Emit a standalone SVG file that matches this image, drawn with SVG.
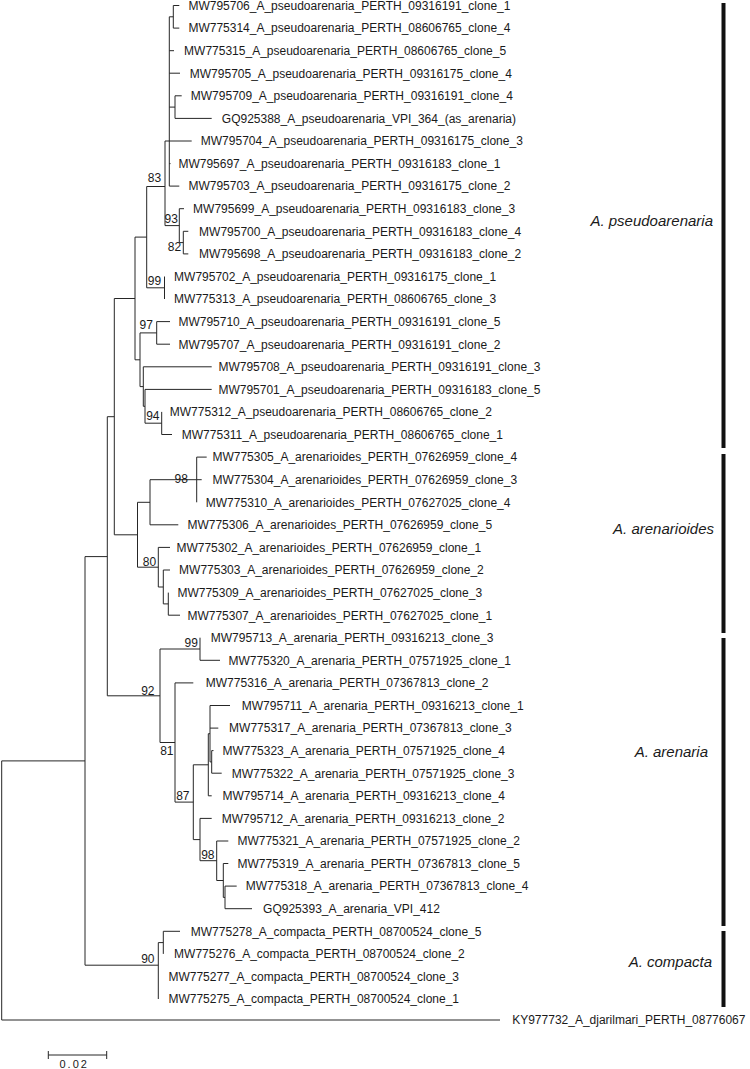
<svg xmlns="http://www.w3.org/2000/svg" width="750" height="1069" viewBox="0 0 750 1069">
<style>
.br{fill:none;stroke:#262626;stroke-width:1}
.lf{font-family:"Liberation Sans",Arial,sans-serif;font-size:12px;fill:#1a1a1a}
.bs{font-family:"Liberation Sans",Arial,sans-serif;font-size:12px;fill:#1a1a1a}
.cl{font-family:"Liberation Sans",Arial,sans-serif;font-size:15px;font-style:italic;fill:#1a1a1a;text-anchor:end}
.bar{fill:#111}
</style>
<rect width="750" height="1069" fill="#fff"/>
<g id="connectors" class="br">
<path d="M1.7,760.9V1020M1.7,1020H500M1.7,760.9H85"/>
<path d="M85,556.6V965.2M85,556.6H107.3M85,965.2H158.3"/>
<path d="M107.3,416.7V695.8M107.3,416.7H114.3M107.3,695.8H160"/>
<path d="M114.3,298.5V534.8M114.3,298.5H135M114.3,534.8H137.5"/>
<path d="M135,237.1V359.8M135,237.1H146.7M135,359.8H140"/>
<path d="M146.7,186.5V287.8M146.7,186.5H165M146.7,287.8H164.5"/>
<path d="M165,141V225.6M165,141H191.7M165,225.6H179.3"/>
<path d="M169.3,16.8V186.1M169.3,16.8H173.3M173.3,5.5V28.1M173.3,5.5H179.3M173.3,28.1H179.3"/>
<path d="M169.3,50.7H174M169.3,73.2H180M169.3,107.1H175M175,95.8V118.4M175,95.8H181.7M175,118.4H211.7"/>
<path d="M169.3,163.6H170.5M169.3,186.1H179.3"/>
<path d="M179.3,208.7V242.6M179.3,208.7H184M179.3,242.6H183.3M183.3,231.3V253.9M183.3,231.3H188.3M183.3,253.9H188.3"/>
<path d="M164.5,276.5V299"/>
<path d="M140,332.9V386.6M140,332.9H156.7M140,386.6H143.3M156.7,321.6V344.2M156.7,321.6H170M156.7,344.2H170"/>
<path d="M143.3,366.8V406.3M143.3,366.8H211.7M143.3,406.3H145M145,389.4V423.2M145,389.4H211.7M145,423.2H161.7M161.7,411.9V434.5M161.7,434.5H172"/>
<path d="M137.5,502.3V567.2M137.5,502.3H150M137.5,567.2H158.3"/>
<path d="M150,479.7V524.8M150,479.7H196.7M150,524.8H178.3M196.7,457.1V502.3M196.7,457.1H206.7M196.7,479.7H201.7"/>
<path d="M158.3,547.4V587M158.3,547.4H170M158.3,587H163.3M163.3,570V603.9M163.3,570H170M163.3,603.9H168.3M168.3,592.6V615.2M168.3,615.2H180"/>
<path d="M160,649V742.5M160,649H200M160,742.5H175M200,637.7V660.3M200,660.3H220"/>
<path d="M175,682.9V802.1M175,682.9H193.3M175,802.1H193.3"/>
<path d="M193.3,764.8V839.6M193.3,764.8H208.3M193.3,839.6H200"/>
<path d="M208.3,733.7V795.8M208.3,733.7H210M208.3,795.8H211.7M210,705.5V761.9M210,705.5H230M210,728.1H218.3M210,761.9H211.7M211.7,750.6V773.2M211.7,750.6H213.5M211.7,773.2H221.7"/>
<path d="M200,818.4V860.7M200,818.4H211.7M200,860.7H216.7M216.7,841V880.5M216.7,841H228.3M216.7,880.5H223.3M223.3,863.5V897.4M223.3,863.5H228.3M223.3,897.4H225M225,886.1V908.7M225,886.1H236.7M225,908.7H252"/>
<path d="M158.3,942.6V999M158.3,942.6H163.3M163.3,931.3V953.9M163.3,931.3H180"/>
<path d="M48.3,1055H106.7M48.3,1051V1059M106.7,1051V1059"/>
</g>
<g id="leaves" class="lf">
<g id="n0"><text x="188.4" y="9.8">MW795706_A_pseudoarenaria_PERTH_09316191_clone_1</text></g>
<g id="n1"><text x="188.4" y="32.4">MW775314_A_pseudoarenaria_PERTH_08606765_clone_4</text></g>
<g id="n2"><text x="184.1" y="55">MW775315_A_pseudoarenaria_PERTH_08606765_clone_5</text></g>
<g id="n3"><text x="189.8" y="77.5">MW795705_A_pseudoarenaria_PERTH_09316175_clone_4</text></g>
<g id="n4"><text x="190.8" y="100.1">MW795709_A_pseudoarenaria_PERTH_09316191_clone_4</text></g>
<g id="n5"><text x="221.8" y="122.7">GQ925388_A_pseudoarenaria_VPI_364_(as_arenaria)</text></g>
<g id="n6"><text x="200.8" y="145.3">MW795704_A_pseudoarenaria_PERTH_09316175_clone_3</text></g>
<g id="n7"><text x="178.4" y="167.9">MW795697_A_pseudoarenaria_PERTH_09316183_clone_1</text></g>
<g id="n8"><text x="188.4" y="190.4">MW795703_A_pseudoarenaria_PERTH_09316175_clone_2</text></g>
<g id="n9"><text x="193.1" y="213">MW795699_A_pseudoarenaria_PERTH_09316183_clone_3</text></g>
<g id="n10"><text x="199.1" y="235.6">MW795700_A_pseudoarenaria_PERTH_09316183_clone_4</text></g>
<g id="n11"><text x="199.1" y="258.2">MW795698_A_pseudoarenaria_PERTH_09316183_clone_2</text></g>
<g id="n12"><text x="174.1" y="280.8">MW795702_A_pseudoarenaria_PERTH_09316175_clone_1</text></g>
<g id="n13"><text x="174.1" y="303.3">MW775313_A_pseudoarenaria_PERTH_08606765_clone_3</text></g>
<g id="n14"><text x="178.4" y="325.9">MW795710_A_pseudoarenaria_PERTH_09316191_clone_5</text></g>
<g id="n15"><text x="178.4" y="348.5">MW795707_A_pseudoarenaria_PERTH_09316191_clone_2</text></g>
<g id="n16"><text x="218.4" y="371.1">MW795708_A_pseudoarenaria_PERTH_09316191_clone_3</text></g>
<g id="n17"><text x="218.4" y="393.7">MW795701_A_pseudoarenaria_PERTH_09316183_clone_5</text></g>
<g id="n18"><text x="169.8" y="416.2">MW775312_A_pseudoarenaria_PERTH_08606765_clone_2</text></g>
<g id="n19"><text x="181.8" y="438.8">MW775311_A_pseudoarenaria_PERTH_08606765_clone_1</text></g>
<g id="n20"><text x="212.4" y="461.4">MW775305_A_arenarioides_PERTH_07626959_clone_4</text></g>
<g id="n21"><text x="212.4" y="484">MW775304_A_arenarioides_PERTH_07626959_clone_3</text></g>
<g id="n22"><text x="205.8" y="506.6">MW775310_A_arenarioides_PERTH_07627025_clone_4</text></g>
<g id="n23"><text x="187.4" y="529.1">MW775306_A_arenarioides_PERTH_07626959_clone_5</text></g>
<g id="n24"><text x="176.4" y="551.7">MW775302_A_arenarioides_PERTH_07626959_clone_1</text></g>
<g id="n25"><text x="179.1" y="574.3">MW775303_A_arenarioides_PERTH_07626959_clone_2</text></g>
<g id="n26"><text x="177.4" y="596.9">MW775309_A_arenarioides_PERTH_07627025_clone_3</text></g>
<g id="n27"><text x="187.4" y="619.5">MW775307_A_arenarioides_PERTH_07627025_clone_1</text></g>
<g id="n28"><text x="210.8" y="642">MW795713_A_arenaria_PERTH_09316213_clone_3</text></g>
<g id="n29"><text x="228.4" y="664.6">MW775320_A_arenaria_PERTH_07571925_clone_1</text></g>
<g id="n30"><text x="205.8" y="687.2">MW775316_A_arenaria_PERTH_07367813_clone_2</text></g>
<g id="n31"><text x="241.8" y="709.8">MW795711_A_arenaria_PERTH_09316213_clone_1</text></g>
<g id="n32"><text x="229.1" y="732.4">MW775317_A_arenaria_PERTH_07367813_clone_3</text></g>
<g id="n33"><text x="222.4" y="754.9">MW775323_A_arenaria_PERTH_07571925_clone_4</text></g>
<g id="n34"><text x="231.8" y="777.5">MW775322_A_arenaria_PERTH_07571925_clone_3</text></g>
<g id="n35"><text x="222.4" y="800.1">MW795714_A_arenaria_PERTH_09316213_clone_4</text></g>
<g id="n36"><text x="221.8" y="822.7">MW795712_A_arenaria_PERTH_09316213_clone_2</text></g>
<g id="n37"><text x="237.4" y="845.3">MW775321_A_arenaria_PERTH_07571925_clone_2</text></g>
<g id="n38"><text x="237.4" y="867.8">MW775319_A_arenaria_PERTH_07367813_clone_5</text></g>
<g id="n39"><text x="245.8" y="890.4">MW775318_A_arenaria_PERTH_07367813_clone_4</text></g>
<g id="n40"><text x="263.1" y="913">GQ925393_A_arenaria_VPI_412</text></g>
<g id="n41"><text x="190.8" y="935.6">MW775278_A_compacta_PERTH_08700524_clone_5</text></g>
<g id="n42"><text x="174.1" y="958.2">MW775276_A_compacta_PERTH_08700524_clone_2</text></g>
<g id="n43"><text x="168.4" y="980.8">MW775277_A_compacta_PERTH_08700524_clone_3</text></g>
<g id="n44"><text x="168.4" y="1003.3">MW775275_A_compacta_PERTH_08700524_clone_1</text></g>
<g id="n45"><text x="512.2" y="1024">KY977732_A_djarilmari_PERTH_08776067</text></g>
</g>
<g id="bootstrap" class="bs">
<text x="147.8" y="182.3">83</text>
<text x="164.5" y="223.3">93</text>
<text x="167.8" y="251.3">82</text>
<text x="147.8" y="285.3">99</text>
<text x="139.5" y="329.3">97</text>
<text x="146.2" y="420.3">94</text>
<text x="174.5" y="483.3">98</text>
<text x="142.8" y="566">80</text>
<text x="184.5" y="647.3">99</text>
<text x="141.2" y="695.3">92</text>
<text x="160.2" y="755.3">81</text>
<text x="176.2" y="800.3">87</text>
<text x="201.2" y="859.3">98</text>
<text x="141.2" y="963.3">90</text>
</g>
<g id="scale"><text x="59.5" y="1068" style="font-family:'Liberation Sans',Arial,sans-serif;font-size:11px;letter-spacing:2px;fill:#1a1a1a">0.02</text></g>
<g id="clade-pseudoarenaria"><rect class="bar" x="721.5" y="3" width="4" height="445"/><text class="cl" x="713" y="225.5">A. pseudoarenaria</text></g>
<g id="clade-arenarioides"><rect class="bar" x="721.5" y="454" width="4" height="179"/><text class="cl" x="714" y="533.7">A. arenarioides</text></g>
<g id="clade-arenaria"><rect class="bar" x="721.5" y="638" width="4" height="288"/><text class="cl" x="708" y="757">A. arenaria</text></g>
<g id="clade-compacta"><rect class="bar" x="721.5" y="931" width="4" height="76"/><text class="cl" x="712" y="967">A. compacta</text></g>
</svg>
